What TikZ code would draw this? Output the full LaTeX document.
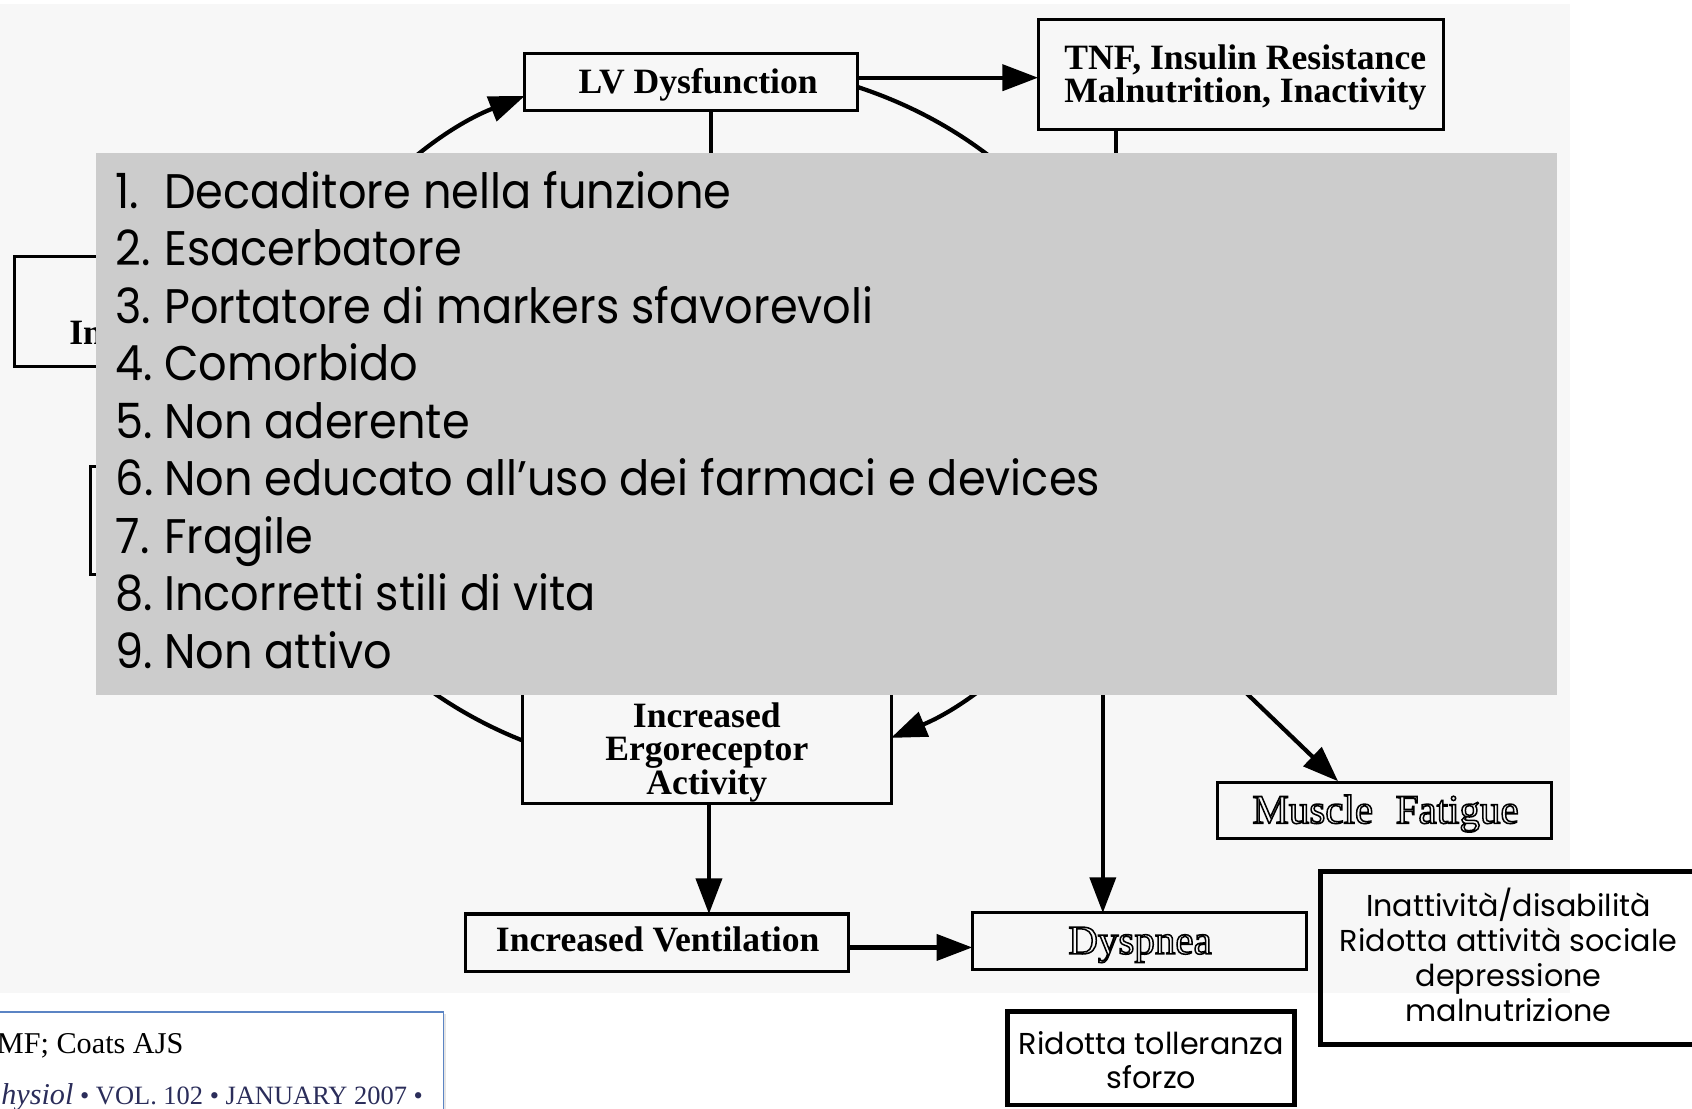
\documentclass[tikz,border=0pt]{standalone}
\usepackage{fontspec}
\setmainfont{Liberation Serif}
\newfontfamily\comic{Poppins}
\newfontfamily\comicn{Poppins}[FakeStretch=0.92]
\usetikzlibrary{arrows.meta,shadows}
\definecolor{bg}{HTML}{F7F7F7}
\definecolor{ov}{HTML}{CCCCCC}
\definecolor{refblue}{HTML}{5B84C4}
\definecolor{refink}{HTML}{2B2D5A}
\newcommand\outl[1]{\special{pdf:literal direct 1 Tr 1.4 w}#1\special{pdf:literal direct 0 Tr}}
\begin{document}
\begin{tikzpicture}[x=1pt,y=1pt,
  oldbox/.style={draw=black,line width=2.8pt,inner sep=0pt,outer sep=0pt},
  thickbox/.style={draw=black,line width=4.6pt,inner sep=0pt,outer sep=0pt},
  oldtxt/.style={inner sep=0pt,font=\fontsize{33}{33}\selectfont\bfseries},
  outtxt/.style={inner sep=0pt,font=\fontsize{38}{38}\selectfont},
  listtxt/.style={inner sep=0pt,anchor=base west,font=\comicn\fontsize{45}{45}\selectfont},
  ctxt/.style={inner sep=0pt,anchor=base,font=\comic\fontsize{28}{28}\selectfont},
  ln/.style={line width=3.9pt},
  arr/.style={line width=3.9pt,-{Triangle[length=33pt,width=24pt]}}]
\useasboundingbox (0,-1027) rectangle (1568,0);
\clip (0,-1027) rectangle (1568,0);
\fill[white] (0,-1027) rectangle (1568,0);
\fill[bg] (0,-920) rectangle (1455,-4);

% ---- old diagram boxes
\node[oldbox,minimum width=309pt,minimum height=52pt] (lv) at (640.5,-76) {};
\node[oldtxt,anchor=base] (lvt) at (647,-87) {LV Dysfunction};
\node[oldbox,minimum width=376pt,minimum height=102pt] (tnf) at (1150,-69) {};
\node[oldtxt,anchor=base] (tnf1) at (1154,-64) {TNF, Insulin Resistance};
\node[oldtxt,anchor=base] (tnf2) at (1154,-95) {Malnutrition, Inactivity};
\node[oldbox,minimum width=300pt,minimum height=102pt] (boxa) at (163,-289) {};
\node[oldtxt,anchor=base west] (boxat) at (64,-319) {In};
\node[oldbox,minimum width=166pt,minimum height=100pt] (boxb) at (167,-482) {};
\node[oldbox,minimum width=342pt,minimum height=145pt] (ergo) at (655,-672.5) {};
\node[oldtxt,anchor=base] (ergo1) at (655,-674) {Increased};
\node[oldtxt,anchor=base] (ergo2) at (655,-705) {Ergoreceptor};
\node[oldtxt,anchor=base] (ergo3) at (655,-736) {Activity};
\node[oldbox,minimum width=355pt,minimum height=53pt] (iv) at (608.5,-873.5) {};
\node[oldtxt,anchor=base] (ivt) at (609.5,-882) {Increased Ventilation};
\node[oldbox,minimum width=310pt,minimum height=52pt] (dysp) at (1056,-872) {};
\node[outtxt,anchor=base] (dyspt) at (1056.5,-884) {\outl{Dyspnea}};
\node[oldbox,minimum width=310pt,minimum height=52pt] (mf) at (1283,-751) {};
\node[outtxt,anchor=base] (mft) at (1284,-763) {\outl{Muscle\hspace{0.55em}Fatigue}};

% ---- old diagram connectors
\coordinate (h1) at (659,-300);
\coordinate (h2) at (1034,-300);
\coordinate (h3) at (1022,-400);
\coordinate (h4) at (1059,-550);
\coordinate (mftip) at (1240,-724);
\coordinate (a1s) at (312.5,-223);
\coordinate (a2s) at (795,-80.7);
\coordinate (a3s) at (312.5,-553);
\coordinate (a4s) at (991.5,-553);
\draw[arr] (lv.east |- 0,-72) -- (tnf.west |- 0,-72);
\draw[ln] (lv.south -| h1) -- (h1);
\draw[ln] (tnf.south -| h2) -- (h2);
\draw[arr] (h3) -- (dysp.north -| h3);
\draw[arr] (h4) -- (mftip);
\draw[arr] (ergo.south -| 657,0) -- (iv.north -| 657,0);
\draw[arr] (iv.east |- 0,-878) -- (dysp.west |- 0,-878);
\draw[arr] (a1s) arc[start angle=150,end angle=115,x radius=392pt,y radius=330pt];
\draw[ln] (a2s) arc[start angle=68.6,end angle=30,x radius=392pt,y radius=330pt];
\draw[ln] (a3s) arc[start angle=210,end angle=244.6,x radius=392pt,y radius=330pt];
\draw[arr] (a4s) arc[start angle=330,end angle=296.3,x radius=392pt,y radius=330pt];

% ---- grey overlay with list
\node[fill=ov,inner sep=0pt,minimum width=1354pt,minimum height=502pt] (ov) at (766,-393) {};
\node[listtxt] (l1) at (107,-193) {\makebox[45pt][l]{1.}Decaditore nella funzione};
\node[listtxt] (l2) at (107,-246.3) {\makebox[45pt][l]{2.}Esacerbatore};
\node[listtxt] (l3) at (107,-299.6) {\makebox[45pt][l]{3.}Portatore di markers sfavorevoli};
\node[listtxt] (l4) at (107,-352.9) {\makebox[45pt][l]{4.}Comorbido};
\node[listtxt] (l5) at (107,-406.2) {\makebox[45pt][l]{5.}Non aderente};
\node[listtxt] (l6) at (107,-459.5) {\makebox[45pt][l]{6.}Non educato all’uso dei farmaci e devices};
\node[listtxt] (l7) at (107,-512.8) {\makebox[45pt][l]{7.}Fragile};
\node[listtxt] (l8) at (107,-566.1) {\makebox[45pt][l]{8.}Incorretti stili di vita};
\node[listtxt] (l9) at (107,-619.4) {\makebox[45pt][l]{9.}Non attivo};

% ---- added boxes
\node[thickbox,minimum width=350pt,minimum height=160pt] (inat) at (1399,-888) {};
\node[ctxt] (inat1) at (1398,-849) {Inattività/disabilità};
\node[ctxt] (inat2) at (1398,-881.5) {Ridotta attività sociale};
\node[ctxt] (inat3) at (1398,-914) {depressione};
\node[ctxt] (inat4) at (1398,-946.5) {malnutrizione};
\node[thickbox,fill=white,minimum width=266pt,minimum height=87pt] (rid) at (1067,-980.5) {};
\node[ctxt] (rid1) at (1067,-977) {Ridotta tolleranza};
\node[ctxt] (rid2) at (1067,-1009) {sforzo};

% ---- reference box
\node[draw=refblue,line width=1.4pt,fill=white,inner sep=0pt,minimum width=416pt,minimum height=102pt,
  drop shadow={opacity=0.2,shadow xshift=2pt,shadow yshift=-2pt}] (ref) at (203,-989) {};
\node[inner sep=0pt,anchor=base west,font=\fontsize{28}{28}\selectfont] (ref1) at (-3,-976) {MF; Coats AJS};
\node[inner sep=0pt,anchor=base west,text=refink] (ref2) at (1,-1024)
  {{\fontsize{28}{28}\selectfont\itshape hysiol}\fontsize{24.5}{24.5}\selectfont\ • VOL. 102 • JANUARY 2007 •};
\end{tikzpicture}
\end{document}
